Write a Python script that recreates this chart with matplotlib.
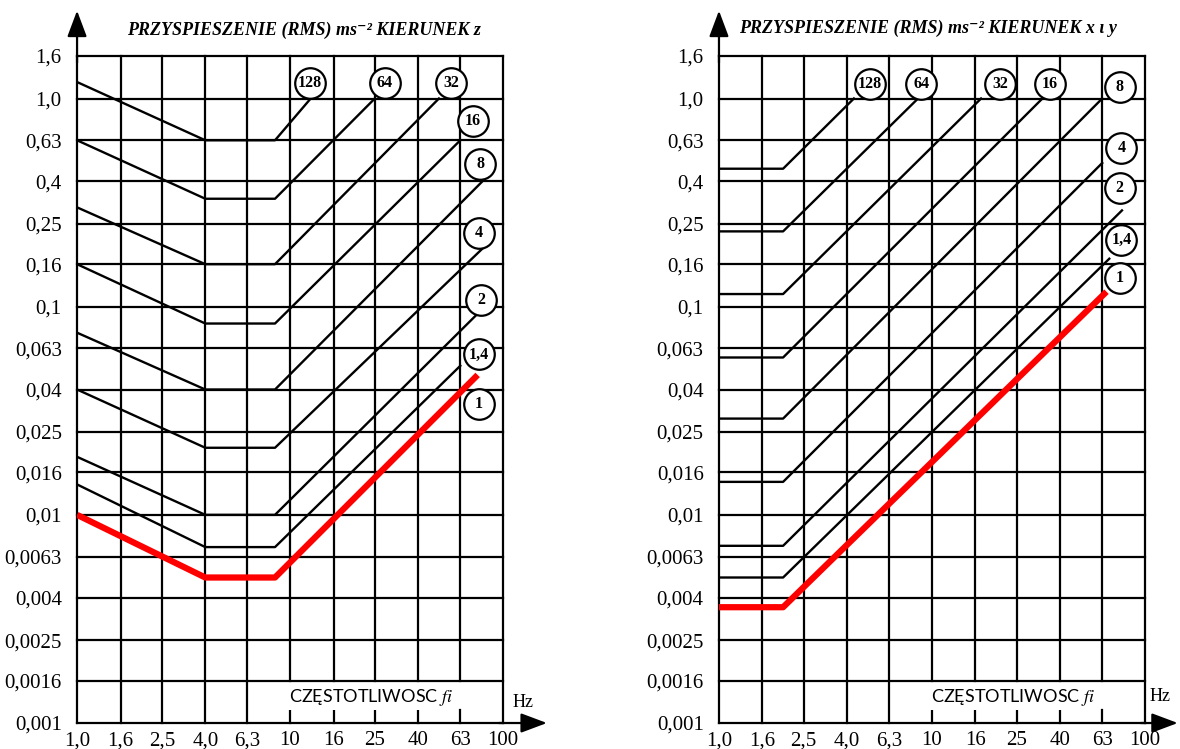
import matplotlib
matplotlib.use("Agg")
import matplotlib.pyplot as plt
from matplotlib import ticker

# Axis ticks
freq_ticks = [1.0, 1.6, 2.5, 4.0, 6.3, 10, 16, 25, 40, 63, 100]
freq_labels = ["1,0", "1,6", "2,5", "4,0", "6,3", "10", "16", "25", "40", "63", "100"]
acc_ticks = [1.6, 1.0, 0.63, 0.4, 0.25, 0.16, 0.1, 0.063, 0.04, 0.025,
             0.016, 0.01, 0.0063, 0.004, 0.0025, 0.0016, 0.001]
acc_labels = ["1,6", "1,0", "0,63", "0,4", "0,25", "0,16", "0,1", "0,063", "0,04",
              "0,025", "0,016", "0,01", "0,0063", "0,004", "0,0025", "0,0016", "0,001"]

curve_names = ["1", "1,4", "2", "4", "8", "16", "32", "64", "128"]

# Direction z: polyline vertices of each curve (Hz, m/s^2)
z_freq = [
    [1, 4, 8.5, 76],
    [1, 4, 8.5, 63],
    [1, 4, 8.5, 78],
    [1, 4, 8.5, 80],
    [1, 4, 8.5, 80],
    [1, 4, 8.5, 63],
    [1, 4, 8.5, 50],
    [1, 4, 8.5, 25],
    [1, 4, 8.5, 12.5],
]
z_acc = [
    [0.01, 0.005, 0.005, 0.047],
    [0.014, 0.007, 0.007, 0.052],
    [0.019, 0.01, 0.01, 0.095],
    [0.04, 0.021, 0.021, 0.19],
    [0.075, 0.04, 0.04, 0.4],
    [0.16, 0.083, 0.083, 0.63],
    [0.3, 0.16, 0.16, 1.0],
    [0.63, 0.33, 0.33, 1.0],
    [1.2, 0.63, 0.63, 1.0],
]

# Directions x and y
xy_freq = [
    [1, 2, 66],
    [1, 2, 68],
    [1, 2, 78],
    [1, 2, 63],
    [1, 2, 63],
    [1, 2, 33],
    [1, 2, 17],
    [1, 2, 8.6],
    [1, 2, 4.3],
]
xy_acc = [
    [0.0036, 0.0036, 0.118],
    [0.005, 0.005, 0.17],
    [0.0071, 0.0071, 0.29],
    [0.0144, 0.0144, 0.49],
    [0.029, 0.029, 1.0],
    [0.057, 0.057, 1.0],
    [0.115, 0.115, 1.0],
    [0.23, 0.23, 1.0],
    [0.46, 0.46, 1.0],
]

# Where the circled curve numbers sit
z_label_pos = [(77, 0.034), (77, 0.059), (79, 0.108), (77, 0.227), (78, 0.485),
               (72, 0.78), (57, 1.19), (27.9, 1.19), (12.4, 1.19)]
xy_label_pos = [(76, 0.137), (77.5, 0.21), (76, 0.37), (77.5, 0.58), (76, 1.13),
                (35.8, 1.18), (20.9, 1.18), (8.9, 1.18), (5.1, 1.18)]

plt.rcParams["mathtext.fontset"] = "stix"
SERIF = ["Liberation Serif", "DejaVu Serif"]
LW = 1.6


def draw_panel(ax, freqs, accs, label_pos, x_arrow):
    ax.set_xscale("log")
    ax.set_yscale("log")
    ax.set_xlim(1, 100)
    ax.set_ylim(0.001, 1.6)
    for s in ax.spines.values():
        s.set_visible(False)

    # grid
    for a in acc_ticks:
        ax.plot([1, 100], [a, a], color="black", lw=LW, clip_on=False, zorder=1)
    for f in freq_ticks:
        if 10 <= f <= 63:
            ax.plot([f, f], [0.0016, 1.6], color="black", lw=LW, clip_on=False, zorder=1)
            ax.plot([f, f], [0.001, 0.00115], color="black", lw=LW, clip_on=False, zorder=1)
        else:
            ax.plot([f, f], [0.001, 1.6], color="black", lw=LW, clip_on=False, zorder=1)

    # curves
    for i, (f, a) in enumerate(zip(freqs, accs)):
        if i == 0:
            ax.plot(f, a, color="#ff0000", lw=4.5, solid_capstyle="butt", zorder=4)
        else:
            ax.plot(f, a, color="black", lw=1.7, zorder=3)

    # circled numbers
    for name, (x, y) in zip(curve_names, label_pos):
        ax.plot(x, y, "o", ms=22, mfc="white", mec="black", mew=1.6, zorder=5, clip_on=False)
        ax.text(x, y, name, ha="center", va="center", fontsize=11.5, weight="bold",
                family=SERIF, zorder=6, clip_on=False)

    # axes arrows
    arrow = dict(arrowstyle="-|>,head_length=0.8,head_width=0.3", color="black",
                 lw=LW, shrinkA=0, shrinkB=0, mutation_scale=20)
    ax.annotate("", xy=(0, 1.068), xytext=(0, 0.99), xycoords="axes fraction",
                arrowprops=arrow, annotation_clip=False)
    ax.annotate("", xy=(x_arrow, 0), xytext=(0.99, 0), xycoords="axes fraction",
                arrowprops=arrow, annotation_clip=False)

    # ticks
    ax.set_xticks(freq_ticks)
    ax.set_xticklabels(freq_labels)
    ax.set_yticks(acc_ticks)
    ax.set_yticklabels(acc_labels)
    ax.xaxis.set_minor_locator(ticker.NullLocator())
    ax.yaxis.set_minor_locator(ticker.NullLocator())
    ax.tick_params(axis="both", length=0, labelsize=15)
    ax.tick_params(axis="y", pad=11)
    ax.tick_params(axis="x", pad=6)
    for lab in ax.get_xticklabels() + ax.get_yticklabels():
        lab.set_family(SERIF)

    ax.text(24, 0.00132, "CZĘSTOTLIWOSC $\\mathit{fi}$", ha="center", va="center",
            fontsize=13, family=["Lato", "DejaVu Sans"], zorder=6,
            bbox=dict(fc="white", ec="none", pad=1))


fig = plt.figure(figsize=(11.8, 7.49), dpi=100)
ax1 = fig.add_axes([0.0653, 0.0347, 0.361, 0.8905])
ax2 = fig.add_axes([0.6093, 0.0347, 0.361, 0.8905])

draw_panel(ax1, z_freq, z_acc, z_label_pos, 1.103)
draw_panel(ax2, xy_freq, xy_acc, xy_label_pos, 1.077)

ax1.text(1.047, 0.031, "Hz", transform=ax1.transAxes, ha="center", va="center",
         fontsize=13, family=SERIF)
ax2.text(1.035, 0.039, "Hz", transform=ax2.transAxes, ha="center", va="center",
         fontsize=13, family=SERIF)

fig.text(0.108, 0.959, "PRZYSPIESZENIE (RMS) ms⁻² KIERUNEK z", ha="left", va="center",
         fontsize=13, style="italic", weight="bold", family=SERIF)
fig.text(0.626, 0.962, "PRZYSPIESZENIE (RMS) ms⁻² KIERUNEK x ι y", ha="left", va="center",
         fontsize=13, style="italic", weight="bold", family=SERIF)

fig.savefig("out.png", dpi=100)
